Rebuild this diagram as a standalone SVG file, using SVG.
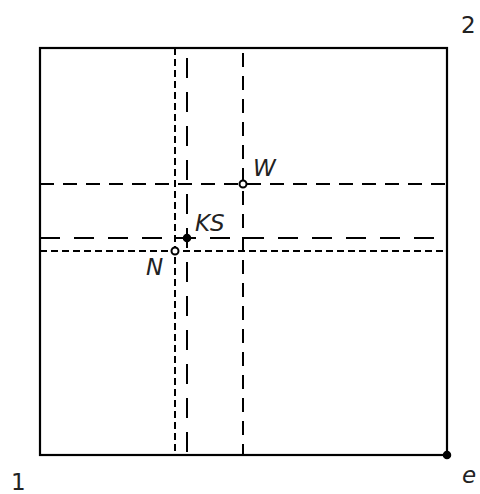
<svg xmlns="http://www.w3.org/2000/svg" width="480" height="494" viewBox="0 0 480 494">
<style>
.frame{fill:none;stroke:#000;stroke-width:2.2}
.dot{stroke:#000;stroke-width:2;stroke-dasharray:7 4;fill:none}
.dash{stroke:#000;stroke-width:2;stroke-dasharray:14 9;fill:none}
.long{stroke:#000;stroke-width:2;stroke-dasharray:20 14;fill:none}
.lbl{font-family:"DejaVu Sans",sans-serif;font-size:23px;fill:#222}
.it{font-style:italic}
.open{fill:#fff;stroke:#000;stroke-width:2}
.fill{fill:#000;stroke:#000;stroke-width:1.5}
</style>
<rect id="frame" class="frame" x="40" y="48" width="407" height="407"/>
<g id="connectors">
<line class="dot" x1="175" y1="48" x2="175" y2="455"/>
<line class="long" x1="187" y1="58" x2="187" y2="455"/>
<line class="dash" x1="243" y1="53" x2="243" y2="455"/>
<line class="dash" x1="40" y1="184" x2="447" y2="184"/>
<line class="long" x1="40" y1="238" x2="447" y2="238"/>
<line class="dot" x1="40" y1="251" x2="447" y2="251"/>
</g>
<g id="W"><circle class="open" cx="243" cy="184" r="3.5"/><text class="lbl it" x="253" y="176">W</text></g>
<g id="KS"><line x1="181" y1="238" x2="193" y2="238" stroke="#000" stroke-width="2"/><line x1="187" y1="232" x2="187" y2="244" stroke="#000" stroke-width="2"/><circle class="fill" cx="187" cy="238" r="3.5"/><text class="lbl it" x="195" y="231">KS</text></g>
<g id="N"><circle class="open" cx="175" cy="251" r="3.5"/><text class="lbl it" x="146" y="275">N</text></g>
<g id="e"><circle class="fill" cx="447" cy="455" r="3.5"/><text class="lbl it" x="462" y="483">e</text></g>
<g id="corner1"><text class="lbl" x="11" y="490">1</text></g>
<g id="corner2"><text class="lbl" x="461" y="33">2</text></g>
</svg>
